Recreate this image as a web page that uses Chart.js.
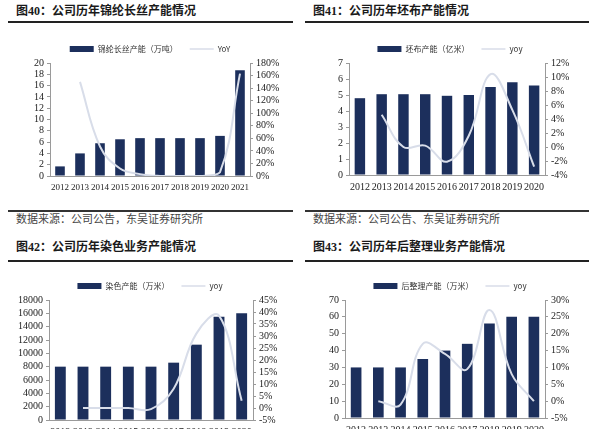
<!DOCTYPE html>
<html>
<head>
<meta charset="utf-8">
<script src="https://cdn.jsdelivr.net/npm/chart.js@4/dist/chart.umd.min.js"></script>
<style>
  html, body { margin: 0; padding: 0; background: #fff; }
  body { width: 600px; height: 429px; position: relative; overflow: hidden;
         font-family: "Liberation Serif", "Noto Sans CJK SC", serif; color: #222; }
  .title { position: absolute; font-size: 12px; font-weight: bold; line-height: 14px; color: #1a1a1a; }
  .src { position: absolute; font-size: 11px; line-height: 14px; color: #444; }
  .rule { position: absolute; height: 2px; background: #222; }
  .thin { position: absolute; height: 2px; background: #333; }
  .box { position: absolute; }
</style>
</head>
<body>
<div class="title" style="left:16px; top:4px;">图40：公司历年锦纶长丝产能情况</div>
<div class="rule" style="left:8px; top:21px; width:285px;"></div>
<div class="title" style="left:313px; top:4px;">图41：公司历年坯布产能情况</div>
<div class="rule" style="left:305px; top:21px; width:284px;"></div>

<div class="thin" style="left:8px; top:210px; width:285px;"></div>
<div class="src" style="left:16px; top:212px;">数据来源：公司公告，东吴证券研究所</div>
<div class="thin" style="left:305px; top:210px; width:284px;"></div>
<div class="src" style="left:313px; top:212px;">数据来源：公司公告、东吴证券研究所</div>

<div class="title" style="left:16px; top:240px;">图42：公司历年染色业务产能情况</div>
<div class="rule" style="left:8px; top:260px; width:285px;"></div>
<div class="title" style="left:313px; top:240px;">图43：公司历年后整理业务产能情况</div>
<div class="rule" style="left:305px; top:260px; width:284px;"></div>

<div class="box" style="left:0; top:33px; width:300px; height:167px;"><canvas id="c40"></canvas></div>
<div class="box" style="left:300px; top:33px; width:300px; height:167px;"><canvas id="c41"></canvas></div>
<div class="box" style="left:0; top:270px; width:300px; height:175px;"><canvas id="c42"></canvas></div>
<div class="box" style="left:300px; top:270px; width:300px; height:175px;"><canvas id="c43"></canvas></div>

<script>
// ─── DATA ──────────────────────────────────
const years40 = ['2012', '2013', '2014', '2015', '2016', '2017', '2018', '2019', '2020', '2021'];
const cap40 = [1.7, 4.0, 5.8, 6.5, 6.7, 6.7, 6.7, 6.7, 7.1, 18.7];
const yoy40 = [null, 150, 47, 12, 3, 0, 0, 0, 6, 163];

const years41 = ['2012', '2013', '2014', '2015', '2016', '2017', '2018', '2019', '2020'];
const cap41 = [4.8, 5.05, 5.05, 5.05, 4.95, 5.0, 5.5, 5.8, 5.6];
const yoy41 = [null, 4.6, 0, 0.2, -2.1, 1.6, 10.4, 5.3, -2.8];

const years42 = ['2012', '2013', '2014', '2015', '2016', '2017', '2018', '2019', '2020'];
const cap42 = [8000, 8000, 8000, 8000, 8000, 8600, 11300, 15500, 16000];
const yoy42 = [null, 0, 0, 0, -0.5, 8, 31, 38.5, 3];

const years43 = ['2012', '2013', '2014', '2015', '2016', '2017', '2018', '2019', '2020'];
const cap43 = [30, 30, 30, 35, 40, 44, 56, 60, 60];
const yoy43 = [null, 0, -1, 17, 14, 9.5, 27, 8, 0];

// ─── STYLE ──────────────────────────────────
const BAR = '#1c2f5c';
const LINE = '#d8dde9';
const AXIS = '#9a9a9a';
const TICK = '#222';
const SERIF = "'Liberation Serif', serif";

function legendLabels(chart) {
  const items = Chart.defaults.plugins.legend.labels.generateLabels(chart);
  items.forEach(it => {
    const ds = chart.data.datasets[it.datasetIndex];
    if (ds.type === 'line') {
      it.pointStyle = 'line';
      it.strokeStyle = LINE;
      it.lineWidth = 1.5;
    } else {
      it.pointStyle = 'rect';
      it.fillStyle = BAR;
      it.strokeStyle = BAR;
      it.lineWidth = 0;
    }
  });
  return items;
}

function fixW(w) { return s => { s.width = w; }; }
function fixH(h) { return s => { s.height = h; }; }

function makeChart(id, cfg) {
  const tickFont = { family: SERIF, size: 10 };
  new Chart(document.getElementById(id), {
    type: 'bar',
    data: {
      labels: cfg.labels,
      datasets: [
        { type: 'bar', label: cfg.barLabel, data: cfg.bars, backgroundColor: BAR,
          yAxisID: 'y', order: 1, barPercentage: 0.48, categoryPercentage: 1 },
        { type: 'line', label: cfg.lineLabel, data: cfg.yoy, borderColor: LINE, borderWidth: 2,
          pointRadius: 0, tension: 0.4, yAxisID: 'y1', order: 0, spanGaps: false }
      ]
    },
    options: {
      responsive: true,
      maintainAspectRatio: false,
      animation: false,
      layout: { padding: 0 },
      plugins: {
        tooltip: { enabled: false },
        legend: {
          display: true,
          labels: {
            color: '#333', font: { family: 'Noto Sans CJK SC', size: 8 },
            usePointStyle: true, pointStyleWidth: 24, boxHeight: 6, padding: 12,
            generateLabels: legendLabels,
            sort: (a, b) => a.datasetIndex - b.datasetIndex
          }
        }
      },
      scales: {
        x: {
          grid: { display: false, drawTicks: false },
          border: { color: AXIS },
          ticks: { color: TICK, font: { family: SERIF, size: cfg.xFont || 10 },
                   autoSkip: false, maxRotation: 0, padding: 6 },
          afterFit: fixH(cfg.xh)
        },
        y: {
          position: 'left', min: cfg.yMin, max: cfg.yMax,
          grid: { drawOnChartArea: false, color: AXIS, tickLength: 3 },
          border: { color: AXIS },
          ticks: { stepSize: cfg.yStep, autoSkip: false, color: TICK, font: tickFont, padding: 3,
                   callback: v => String(v) },
          afterFit: fixW(cfg.lw)
        },
        y1: {
          position: 'right', min: cfg.rMin, max: cfg.rMax,
          grid: { drawOnChartArea: false, color: AXIS, tickLength: 3 },
          border: { color: AXIS },
          ticks: { stepSize: cfg.rStep, autoSkip: false, color: TICK, font: tickFont, padding: 3,
                   callback: v => v + '%' },
          afterFit: fixW(cfg.rw)
        }
      }
    }
  });
}

makeChart('c40', {
  labels: years40, bars: cap40, yoy: yoy40,
  barLabel: '锦纶长丝产能（万吨）', lineLabel: 'YoY',
  yMin: 0, yMax: 20, yStep: 2, rMin: 0, rMax: 180, rStep: 20,
  lw: 50, rw: 50, xh: 24, xFont: 9
});
makeChart('c41', {
  labels: years41, bars: cap41, yoy: yoy41,
  barLabel: '坯布产能（亿米）', lineLabel: 'yoy',
  yMin: 0, yMax: 7, yStep: 1, rMin: -4, rMax: 12, rStep: 2,
  lw: 49, rw: 55, xh: 25
});
makeChart('c42', {
  labels: years42, bars: cap42, yoy: yoy42,
  barLabel: '染色产能（万米）', lineLabel: 'yoy',
  yMin: 0, yMax: 18000, yStep: 2000, rMin: -5, rMax: 45, rStep: 5,
  lw: 49, rw: 47, xh: 25
});
makeChart('c43', {
  labels: years43, bars: cap43, yoy: yoy43,
  barLabel: '后整理产能（万米）', lineLabel: 'yoy',
  yMin: 0, yMax: 70, yStep: 10, rMin: -5, rMax: 30, rStep: 5,
  lw: 45, rw: 55, xh: 27
});
</script>
</body>
</html>
